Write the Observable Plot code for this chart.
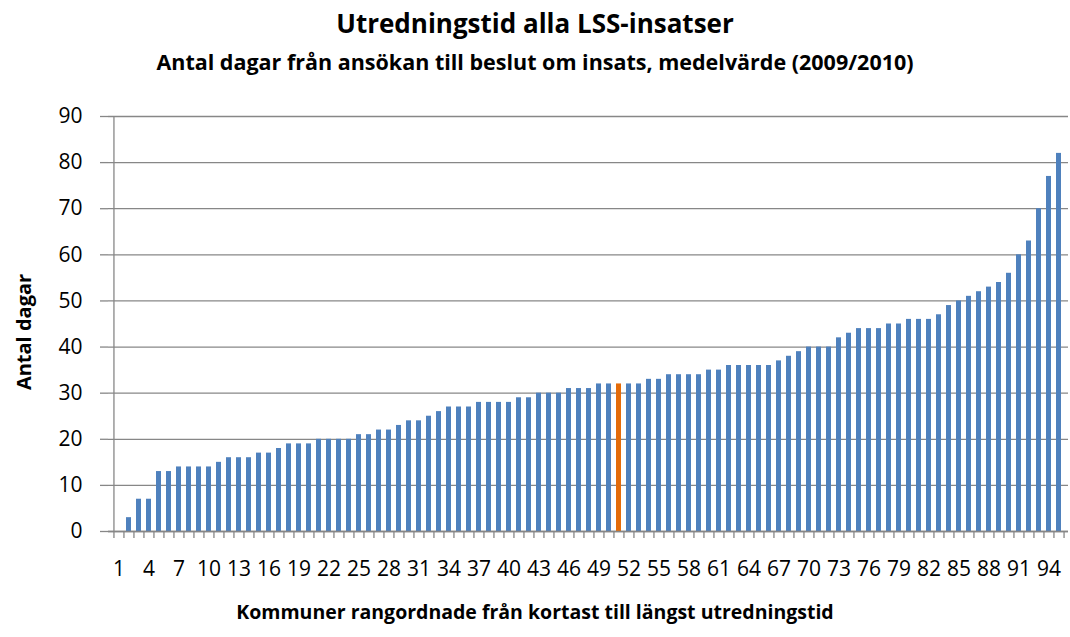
<!DOCTYPE html>
<html>
<head>
<meta charset="utf-8">
<script src="https://cdn.jsdelivr.net/npm/d3@7"></script>
<script src="https://cdn.jsdelivr.net/npm/@observablehq/plot@0.6"></script>
<style>
  html, body { margin: 0; padding: 0; background: #fff; }
  #wrap { position: relative; width: 1070px; height: 637px; font-family: "Open Sans", Lato, sans-serif; color: #000; }
  .t { position: absolute; left: 0; width: 1070px; text-align: center; font-weight: bold; white-space: nowrap; }
  #title { top: 10px; font-size: 26px; line-height: 26px; }
  #subtitle { top: 51px; font-size: 21.5px; line-height: 21.5px; }
  #xtitle { top: 602px; font-size: 19.5px; line-height: 19.5px; }
  #ytitle { position: absolute; left: 24px; top: 332px; transform: translate(-50%, -50%) rotate(-90deg); font-size: 20px; line-height: 20px; font-weight: bold; white-space: nowrap; }
  #chart { position: absolute; left: 0; top: 0; }
</style>
</head>
<body>
<div id="wrap">
  <div id="chart"></div>
  <div class="t" id="title"></div>
  <div class="t" id="subtitle"></div>
  <div class="t" id="xtitle"></div>
  <div id="ytitle"></div>
</div>
<script>
const titleText = "Utredningstid alla LSS-insatser";
const subtitleText = "Antal dagar från ansökan till beslut om insats, medelvärde (2009/2010)";
const xTitleText = "Kommuner rangordnade från kortast till längst utredningstid";
const yTitleText = "Antal dagar";

// Rank of each municipality (1..95)
const ranks = d3.range(1, 96);
// Average number of days per municipality, in rank order
const days = [
  0, 3, 7, 7, 13, 13, 14, 14, 14, 14,
  15, 16, 16, 16, 17, 17, 18, 19, 19, 19,
  20, 20, 20, 20, 21, 21, 22, 22, 23, 24,
  24, 25, 26, 27, 27, 27, 28, 28, 28, 28,
  29, 29, 30, 30, 30, 31, 31, 31, 32, 32,
  32, 32, 32, 33, 33, 34, 34, 34, 34, 35,
  35, 36, 36, 36, 36, 36, 37, 38, 39, 40,
  40, 40, 42, 43, 44, 44, 44, 45, 45, 46,
  46, 46, 47, 49, 50, 51, 52, 53, 54, 56,
  60, 63, 70, 77, 82
];
const highlightRank = 51;
const yTicks = [0, 10, 20, 30, 40, 50, 60, 70, 80, 90];
const xTickLabels = ranks.filter(r => (r - 1) % 3 === 0);

const blue = "#4F81BD";
const orange = "#E46C0A";
const gridColor = "#878787";

const data = ranks.map((r, i) => ({rank: r, value: days[i], hl: r === highlightRank}));

document.getElementById("title").textContent = titleText;
document.getElementById("subtitle").textContent = subtitleText;
document.getElementById("xtitle").textContent = xTitleText;
document.getElementById("ytitle").textContent = yTitleText;

const W = 1070, H = 637, mL = 108, mR = 2, mT = 116, mB = 106;
const half = (W - mL - mR) / ranks.length / 2;

const chart = Plot.plot({
  width: W,
  height: H,
  marginTop: mT,
  marginBottom: mB,
  marginLeft: mL,
  marginRight: mR,
  style: {fontFamily: "'Open Sans', Lato, sans-serif", background: "white", color: "black"},
  x: {type: "band", domain: ranks, padding: 0.5, axis: null},
  y: {domain: [0, 90], axis: null},
  marks: [
    Plot.gridY(yTicks, {stroke: gridColor, strokeOpacity: 1, strokeWidth: 1.3}),
    Plot.barY(data, {x: "rank", y: "value", fill: d => d.hl ? orange : blue}),
    Plot.ruleX([ranks[0]], {dx: -half, y1: 0, y2: 90, stroke: gridColor, strokeWidth: 1.3}),
    Plot.ruleY([0], {stroke: gridColor, strokeWidth: 1.3}),
    Plot.axisY(yTicks, {label: null, tickSize: 8, tickPadding: 18, fontSize: 21, stroke: gridColor, fill: "black", strokeWidth: 1.3, tickFormat: d => String(d)}),
    Plot.axisX(ranks, {label: null, tickSize: 7, tickFormat: () => "", dx: -half, stroke: gridColor, strokeWidth: 1.3}),
    Plot.axisX([ranks[ranks.length - 1]], {label: null, tickSize: 7, tickFormat: () => "", dx: half, stroke: gridColor, strokeWidth: 1.3}),
    Plot.axisX(xTickLabels, {label: null, tickSize: 0, tickPadding: 30, fontSize: 21, fill: "black", tickFormat: d => String(d)})
  ]
});
document.getElementById("chart").appendChild(chart);
</script>
</body>
</html>
